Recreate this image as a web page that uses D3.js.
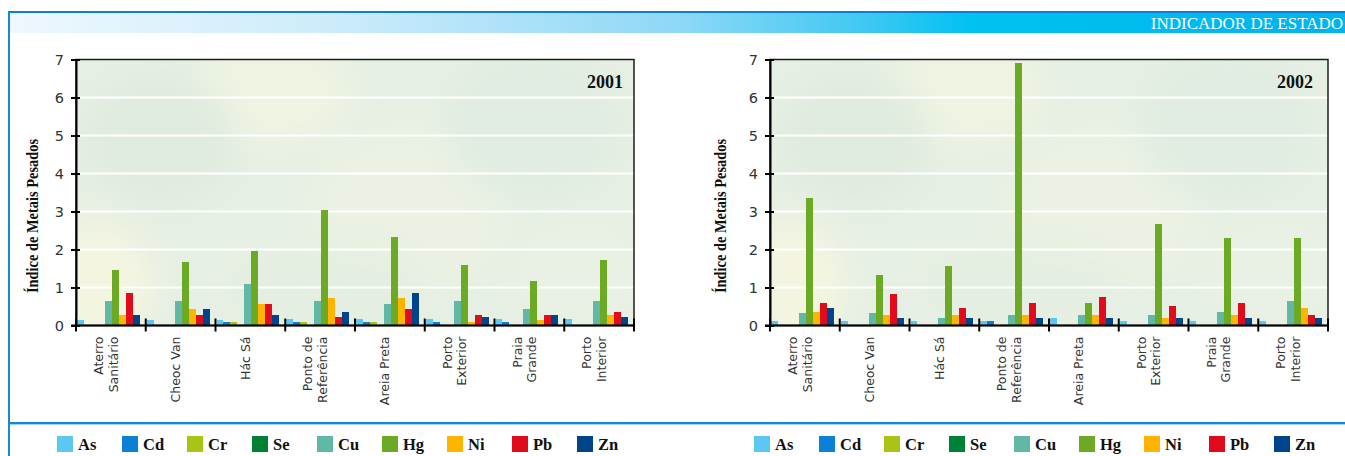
<!DOCTYPE html>
<html>
<head>
<meta charset="utf-8">
<script src="https://cdn.jsdelivr.net/npm/d3@7"></script>
<style>
  body { margin: 0; background: #fff; }
  svg { display: block; }
</style>
</head>
<body>
<svg id="chart" width="1345" height="456"></svg>
<script>
// Sampling stations (line breaks mark wrapped labels)
const categories = ["Aterro\nSanitário", "Cheoc Van", "Hác Sá", "Ponto de\nReferência",
                    "Areia Preta", "Porto\nExterior", "Praia\nGrande", "Porto\nInterior"];
const metals = ["As", "Cd", "Cr", "Se", "Cu", "Hg", "Ni", "Pb", "Zn"];
const yTicks = [0, 1, 2, 3, 4, 5, 6, 7];
const years = ["2001", "2002"];

// Heavy-metal index, 2001
const as2001 = [0.15, 0.15, 0.15, 0.17, 0.17, 0.17, 0.17, 0.17];
const cd2001 = [0, 0, 0.09, 0.09, 0.09, 0.09, 0.09, 0];
const cr2001 = [0, 0, 0.09, 0.09, 0.09, 0, 0, 0];
const se2001 = [0, 0, 0, 0, 0, 0, 0, 0];
const cu2001 = [0.64, 0.64, 1.10, 0.64, 0.56, 0.64, 0.43, 0.64];
const hg2001 = [1.46, 1.67, 1.96, 3.05, 2.34, 1.58, 1.18, 1.73];
const ni2001 = [0.28, 0.43, 0.56, 0.72, 0.72, 0.09, 0.14, 0.27];
const pb2001 = [0.85, 0.27, 0.56, 0.22, 0.43, 0.27, 0.27, 0.35];
const zn2001 = [0.27, 0.43, 0.27, 0.35, 0.85, 0.22, 0.27, 0.22];

// Heavy-metal index, 2002
const as2002 = [0.13, 0.13, 0.13, 0.13, 0.20, 0.13, 0.13, 0.13];
const cd2002 = [0, 0, 0, 0.13, 0, 0, 0, 0];
const cr2002 = [0, 0, 0, 0, 0, 0, 0, 0];
const se2002 = [0, 0, 0, 0, 0, 0, 0, 0];
const cu2002 = [0.34, 0.34, 0.20, 0.28, 0.28, 0.28, 0.36, 0.65];
const hg2002 = [3.35, 1.32, 1.56, 6.90, 0.58, 2.66, 2.29, 2.29];
const ni2002 = [0.36, 0.28, 0.28, 0.28, 0.28, 0.20, 0.28, 0.45];
const pb2002 = [0.58, 0.82, 0.45, 0.58, 0.74, 0.52, 0.58, 0.28];
const zn2002 = [0.45, 0.20, 0.20, 0.20, 0.20, 0.20, 0.20, 0.20];

const series2001 = [as2001, cd2001, cr2001, se2001, cu2001, hg2001, ni2001, pb2001, zn2001];
const series2002 = [as2002, cd2002, cr2002, se2002, cu2002, hg2002, ni2002, pb2002, zn2002];

const metalColors = ["#5cc8f2", "#0a80d6", "#a8c414", "#008236", "#62b8a6",
                     "#6caa26", "#ffb400", "#e00c1c", "#00448a"];
const color = d3.scaleOrdinal().domain(metals).range(metalColors);

const svg = d3.select("#chart");
const defs = svg.append("defs");

// ---- page frame and header band ----
const hdr = defs.append("linearGradient").attr("id", "hdrGrad");
[[0, "#eef8fd"], [0.25, "#cbebfa"], [0.5, "#8fd8f7"], [0.64, "#40c8f2"],
 [0.72, "#00c2f2"], [1, "#00b4ec"]].forEach(([o, c]) =>
  hdr.append("stop").attr("offset", o).attr("stop-color", c));

svg.append("rect").attr("x", 10).attr("y", 13).attr("width", 1335).attr("height", 20)
  .attr("fill", "url(#hdrGrad)");
svg.append("rect").attr("x", 8).attr("y", 11).attr("width", 1337).attr("height", 2)
  .attr("fill", "#0a7fd4");
svg.append("rect").attr("x", 8).attr("y", 11).attr("width", 2).attr("height", 445)
  .attr("fill", "#1a86d8");
svg.append("rect").attr("x", 10).attr("y", 422).attr("width", 1335).attr("height", 2)
  .attr("fill", "#1a86d8");
svg.append("rect").attr("x", 10).attr("y", 424).attr("width", 1335).attr("height", 1)
  .attr("fill", "#9fd3f2");
svg.append("text").attr("x", 1343).attr("y", 29).attr("text-anchor", "end")
  .attr("font-family", "Liberation Serif, serif").attr("font-size", 17)
  .attr("fill", "#fff").text("INDICADOR DE ESTADO");

// ---- soft leaf backdrop for plot areas ----
defs.append("filter").attr("id", "soft").attr("x", "-50%").attr("y", "-50%")
  .attr("width", "200%").attr("height", "200%")
  .append("feGaussianBlur").attr("stdDeviation", 16);

const blobs = [
  { cx: 0.35, cy: 0.12, rx: 0.14, ry: 0.2,  c: "#eff4e2" },
  { cx: 0.04, cy: 0.85, rx: 0.1,  ry: 0.25, c: "#f3f5e0" },
  { cx: 0.6,  cy: 0.55, rx: 0.18, ry: 0.3,  c: "#ebf2e3" },
  { cx: 0.15, cy: 0.3,  rx: 0.14, ry: 0.25, c: "#e0ebdf" },
  { cx: 0.82, cy: 0.25, rx: 0.16, ry: 0.3,  c: "#e1ede2" },
  { cx: 0.9,  cy: 0.8,  rx: 0.12, ry: 0.2,  c: "#e9f1e4" },
  { cx: 0.45, cy: 0.85, rx: 0.2,  ry: 0.18, c: "#e5efe1" }
];

function drawPanel(opts) {
  const { x0, x1, yTop, yBot, year, series, titleX, axisTitleX, legendX0, id } = opts;
  const g = svg.append("g");

  const x = d3.scaleBand().domain(categories).range([x0, x1]).padding(0);
  const inner = d3.scaleBand().domain(metals)
    .range([1, 1 + x.bandwidth() * 0.9]).padding(0);
  const y = d3.scaleLinear().domain([0, 7]).range([yBot, yTop]);

  // backdrop
  defs.append("clipPath").attr("id", "clip" + id)
    .append("rect").attr("x", x0).attr("y", yTop).attr("width", x1 - x0).attr("height", yBot - yTop);
  const bg = g.append("g").attr("clip-path", `url(#clip${id})`);
  bg.append("rect").attr("x", x0).attr("y", yTop).attr("width", x1 - x0).attr("height", yBot - yTop)
    .attr("fill", "#e6efe3");
  const w = x1 - x0, h = yBot - yTop;
  bg.append("g").attr("filter", "url(#soft)").selectAll("ellipse").data(blobs).join("ellipse")
    .attr("cx", d => x0 + d.cx * w).attr("cy", d => yTop + d.cy * h)
    .attr("rx", d => d.rx * w).attr("ry", d => d.ry * h).attr("fill", d => d.c);

  // gridlines
  g.append("g").selectAll("line").data(yTicks.filter(t => t > 0 && t < 7)).join("line")
    .attr("x1", x0).attr("x2", x1).attr("y1", d => y(d)).attr("y2", d => y(d))
    .attr("stroke", "#fff").attr("stroke-width", 2);

  // bars
  const cells = [];
  categories.forEach((c, i) => metals.forEach((m, j) => {
    if (series[j][i] > 0) cells.push({ c, m, v: series[j][i] });
  }));
  g.append("g").selectAll("rect").data(cells).join("rect")
    .attr("x", d => x(d.c) + inner(d.m)).attr("width", inner.bandwidth())
    .attr("y", d => y(d.v)).attr("height", d => y(0) - y(d.v))
    .attr("fill", d => color(d.m)).attr("shape-rendering", "crispEdges");

  // plot frame
  g.append("rect").attr("x", x0).attr("y", yTop).attr("width", x1 - x0).attr("height", yBot - yTop)
    .attr("fill", "none").attr("stroke", "#1c1c1c").attr("stroke-width", 1.5);

  // y axis
  const ya = g.append("g").attr("transform", `translate(${x0},0)`)
    .call(d3.axisLeft(y).tickValues(yTicks).tickFormat(d3.format("d")).tickSize(5).tickPadding(8));
  ya.select(".domain").attr("stroke", "#000").attr("stroke-width", 2);
  ya.selectAll(".tick line").attr("x1", 4).attr("x2", -5).attr("stroke", "#000").attr("stroke-width", 2);
  ya.selectAll(".tick text").attr("x", -12).attr("font-family", "DejaVu Sans, sans-serif")
    .attr("font-size", 14.5).attr("fill", "#333");

  // x axis with boundary ticks
  g.append("line").attr("x1", x0 - 5).attr("x2", x1).attr("y1", yBot).attr("y2", yBot)
    .attr("stroke", "#000").attr("stroke-width", 2);
  const bounds = categories.map(c => x(c)).concat([x1]);
  g.append("g").selectAll("line").data(bounds).join("line")
    .attr("x1", d => d).attr("x2", d => d).attr("y1", yBot - 7).attr("y2", yBot + 6)
    .attr("stroke", "#000").attr("stroke-width", 2);

  // category labels, rotated
  const lab = g.append("g").selectAll("text").data(categories).join("text")
    .attr("transform", d => `translate(${x(d) + x.bandwidth() / 2 - 5},${yBot + 11}) rotate(-90)`)
    .attr("text-anchor", "end").attr("font-family", "DejaVu Sans, sans-serif")
    .attr("font-size", 12.5).attr("fill", "#333");
  lab.each(function (d) {
    const lines = d.split("\n");
    d3.select(this).selectAll("tspan").data(lines).join("tspan")
      .attr("x", 0).attr("y", (l, k) => (k - (lines.length - 1) / 2) * 14.5 + 4.5)
      .text(l => l);
  });

  // year title
  g.append("text").attr("x", titleX).attr("y", 88).attr("text-anchor", "end")
    .attr("font-family", "Liberation Serif, serif").attr("font-weight", "bold")
    .attr("font-size", 18).attr("fill", "#111").text(year);

  // axis title
  g.append("text").attr("transform", `translate(${axisTitleX},216) rotate(-90)`)
    .attr("text-anchor", "middle").attr("font-family", "Liberation Serif, serif")
    .attr("font-weight", "bold").attr("font-size", 16.5).attr("fill", "#111")
    .attr("textLength", 154).attr("lengthAdjust", "spacingAndGlyphs")
    .text("Índice de Metais Pesados");

  // legend
  const lx = d3.scaleBand().domain(metals).range([legendX0, legendX0 + 65 * 9]).padding(0);
  const leg = g.append("g").selectAll("g").data(metals).join("g")
    .attr("transform", m => `translate(${lx(m)},436)`);
  leg.append("rect").attr("width", 16).attr("height", 16).attr("fill", m => color(m));
  leg.append("text").attr("x", 21).attr("y", 14)
    .attr("font-family", "Liberation Serif, serif").attr("font-weight", "bold")
    .attr("font-size", 16.5).attr("fill", "#111").text(m => m);
}

drawPanel({ id: "a", x0: 76, x1: 634, yTop: 59.5, yBot: 325.5, year: years[0], series: series2001,
            titleX: 623, axisTitleX: 38, legendX0: 57 });
drawPanel({ id: "b", x0: 770, x1: 1328, yTop: 59.5, yBot: 325.5, year: years[1], series: series2002,
            titleX: 1313, axisTitleX: 726, legendX0: 754 });
</script>
</body>
</html>
